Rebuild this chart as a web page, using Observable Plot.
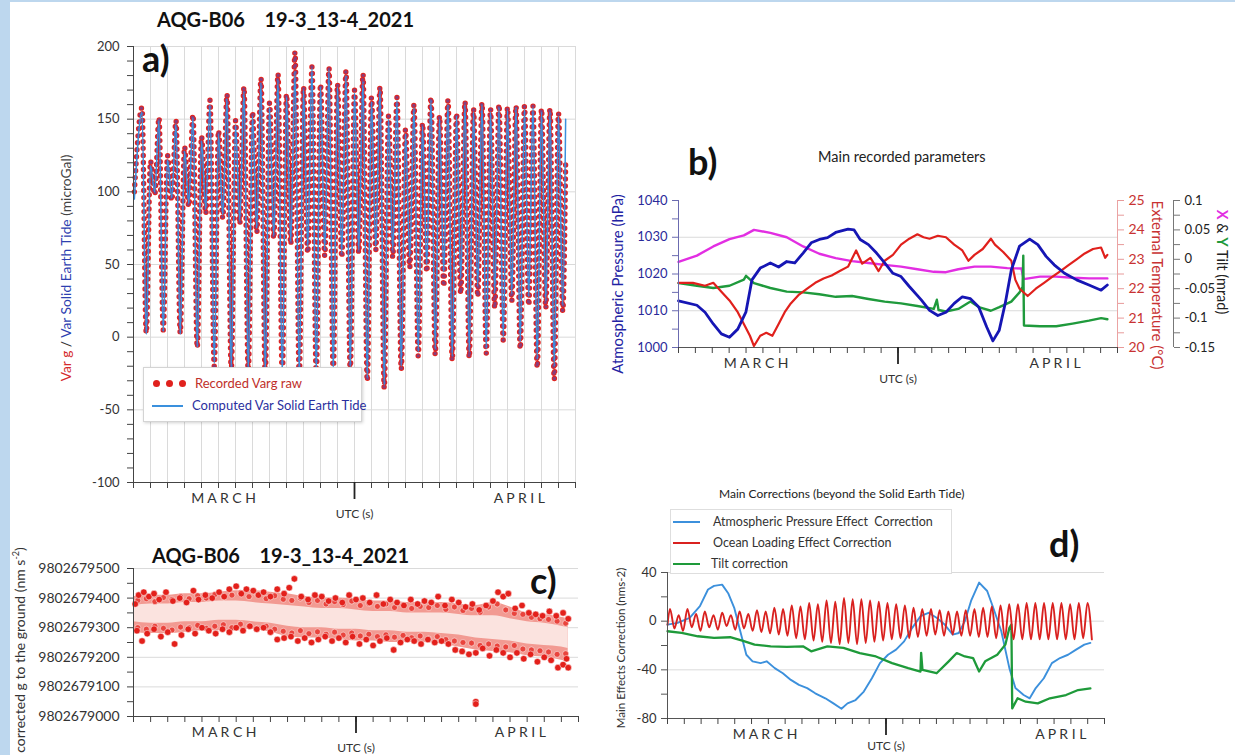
<!DOCTYPE html>
<html lang="en">
<head>
<meta charset="utf-8">
<title>AQG-B06 19-3_13-4_2021</title>
<script src="https://cdn.jsdelivr.net/npm/d3@7"></script>
<script src="https://cdn.jsdelivr.net/npm/@observablehq/plot@0.6"></script>
<style>
  html, body { margin: 0; padding: 0; background: #fff; }
  #fig { position: relative; width: 1235px; height: 755px; overflow: hidden; background: #fff;
         font-family: Lato, "Open Sans", sans-serif; color: #222; }
  .edge-l { position: absolute; left: 0; top: 0; width: 10px; height: 755px; background: #bdd7ee; }
  .edge-t { position: absolute; left: 0; top: 0; width: 1235px; height: 2px; background: #bdd7ee; }
  .panel { position: absolute; }
  .panel svg { overflow: visible; }
  .txt { position: absolute; white-space: pre; line-height: 1; }
  .rot { position: absolute; white-space: nowrap; line-height: 1; transform: translate(-50%, -50%) rotate(-90deg); }
  .rot90 { position: absolute; white-space: nowrap; line-height: 1; transform: translate(-50%, -50%) rotate(90deg); }
  .legend { position: absolute; background: #fff; border: 1px solid #d4d4d4; box-shadow: 1px 1px 3px rgba(0,0,0,0.18); }
  .lg-row { position: absolute; left: 0; display: flex; align-items: center; white-space: nowrap; line-height: 1; }
  .dot { display: inline-block; width: 7px; height: 7px; border-radius: 50%; background: #e0211d; margin-right: 6px; }
  .seg { display: inline-block; height: 2px; }
</style>
</head>
<body>
<div id="fig">
  <div class="edge-l"></div>
  <div class="edge-t"></div>
</div>
<script>
const FONT = 'Lato, "Open Sans", sans-serif';

// ---------- a) gravity variation vs computed solid Earth tide (microGal) ----------
// one entry per day: higher high, lower low, lower high, higher low
const tideHH = [155,149,147,151,160,164,169,175,177,183,185,184,180,176,170,163,158,163,160,160,160,158,158,158,155];
const tideLL = [2,4,2,-7,-18,-22,-24,-25,-26,-26,-25,-24,-22,-28,-33,-20,-10,-8,-13,-10,-8,0,-3,-15,-20];
const tideLH = [118,122,128,135,140,146,152,158,165,170,172,172,168,162,150,140,145,150,152,155,155,156,157,155,152];
const tideHL = [100,96,92,88,84,80,75,70,66,62,60,58,60,62,60,55,50,45,40,35,30,30,28,25,22];
const rawHH  = [158,151,149,153,163,167,172,178,181,196,186,185,183,181,172,165,160,165,163,162,161,160,159,159,157];
const rawLL  = [3,5,3,-7,-20,-23,-25,-26,-27,-27,-26,-25,-23,-30,-35,-22,-13,-12,-16,-14,-11,-2,-8,-21,-29];
const rawLH  = [121,125,131,138,142,149,155,161,167,172,174,174,170,165,152,143,147,152,154,157,157,158,159,157,154];
const rawHL  = [98,94,90,85,82,78,72,68,64,58,56,55,58,60,55,48,45,35,30,28,20,25,22,20,18];
const tideEnds = [95, 150];
const rawEnds = [100, 120];

// ---------- b) recorded parameters ----------
const pressDay = [0,1.09,1.57,2.06,2.54,3.02,3.51,3.99,4.35,4.84,5.44,5.93,6.41,6.89,7.38,7.86,8.34,8.83,9.31,10.04,10.4,10.76,11.25,11.73,12.21,12.7,13.18,13.67,14.39,14.87,15.36,15.84,16.33,16.81,17.29,17.78,18.26,18.62,18.99,19.35,19.71,20.2,20.8,21.28,21.77,22.25,22.86,23.58,24.31,25.03,25.4];
const pressVal = [1012.7,1011.5,1009.6,1006.4,1003.7,1002.8,1005,1009.6,1018.4,1021.6,1023,1021.9,1023.4,1023,1025.7,1028.5,1029.4,1029.9,1031.3,1032.2,1032,1029.4,1028,1025.7,1023,1020.2,1019.3,1016.6,1012.9,1010.1,1008.7,1009.6,1012,1013.8,1013.3,1011,1005.5,1001.8,1004.6,1012,1021.1,1027.6,1029.5,1028,1024.8,1022.5,1020.2,1018.4,1017,1015.6,1017];
const tempDay = [0,0.85,1.57,2.06,2.54,3.02,3.51,3.87,4.23,4.47,4.84,5.2,5.56,5.93,6.29,6.65,7.14,7.62,8.1,8.59,9.07,9.55,10.04,10.52,10.88,11.37,11.85,12.21,12.7,13.18,13.67,14.15,14.51,14.87,15.36,15.84,16.33,16.81,17.17,17.53,18.02,18.5,18.74,19.23,19.71,19.95,20.2,20.68,21.16,21.65,22.13,22.62,23.1,23.58,24.06,24.55,25.03,25.27,25.4];
const tempVal = [22.2,22.2,22.1,22.2,21.9,21.6,21.2,20.8,20.4,20.05,20.4,20.5,20.4,20.8,21.2,21.5,21.8,22,22.2,22.35,22.45,22.6,22.75,23.3,22.85,23.05,22.6,22.95,23.15,23.5,23.7,23.85,23.75,23.7,23.8,23.75,23.5,23.3,22.95,23.15,23.35,23.7,23.5,23.25,22.95,22.3,22,21.75,22,22.2,22.4,22.6,22.8,23,23.2,23.35,23.4,23.05,23.15];
const tiltXDay = [0,1.09,2.06,3.02,3.87,4.47,5.44,6.41,7.38,8.34,9.31,10.28,11.25,12.21,13.18,14.15,15.12,15.84,16.57,17.53,18.5,19.47,20.31,20.44,21.41,22.37,23.34,24.31,25.4];
const tiltXVal = [-0.0044,0.0063,0.0219,0.0344,0.0406,0.05,0.045,0.0375,0.0219,0.0094,0.0019,-0.0031,-0.0063,-0.0094,-0.0125,-0.0169,-0.0213,-0.0219,-0.0169,-0.0125,-0.0125,-0.015,-0.0156,-0.0338,-0.0294,-0.0294,-0.0313,-0.0325,-0.0325];
const tiltYDay = [0,1.09,2.06,3.02,3.87,4.0,4.47,5.44,6.41,7.38,8.34,9.31,10.28,11.25,12.21,13.18,14.15,15.12,15.3,15.4,15.84,16.57,17.29,17.78,18.5,19.0,19.71,20.2,20.38,20.42,20.46,21.41,22.37,23.34,24.31,25.03,25.4];
const tiltYVal = [-0.0406,-0.045,-0.0488,-0.045,-0.0344,-0.0281,-0.0406,-0.0488,-0.055,-0.0563,-0.0594,-0.0638,-0.0625,-0.0675,-0.0719,-0.075,-0.0794,-0.0844,-0.0688,-0.0863,-0.0888,-0.0844,-0.0719,-0.0813,-0.0875,-0.0813,-0.0719,-0.0563,-0.0469,0.0063,-0.1125,-0.1138,-0.1138,-0.1094,-0.1044,-0.1,-0.1019];

// ---------- c) corrected g (nm s-2), offsets above 9802679000 ----------
const gBase = 9802679000;
const cBandDay    = [0,1,2,3,4,5,6,7,8,9,10,11,12,13,14,15,16,17,18,19,20,21,22,23,24,25,25.4];
const cBandTop    = [405,410,410,415,415,420,425,425,420,415,405,400,400,395,390,390,385,385,385,380,375,385,370,350,345,335,330];
const cBandBottom = [285,280,280,285,290,290,295,295,285,270,265,265,260,255,255,250,250,250,245,235,225,220,215,205,200,190,185];
const cCoreTop    = [375,380,380,385,385,390,390,385,380,375,370,365,365,360,355,355,350,350,350,345,340,340,330,320,315,305,300];
const cCoreBottom = [320,315,315,320,320,325,325,320,315,305,300,300,295,295,290,290,285,285,280,275,265,260,255,245,240,235,230];
const cUpperDots = [[0.1,380],[0.3,410],[0.6,420],[0.9,405],[1.2,415],[1.5,395],[1.9,420],[2.3,390],[2.7,400],[3.1,385],[3.5,425],[3.8,395],[4.2,410],[4.6,400],[5.0,420],[5.3,405],[5.6,430],[6.0,440],[6.3,415],[6.6,430],[7.0,425],[7.3,410],[7.6,420],[8.0,405],[8.4,430],[8.8,415],[9.1,435],[9.4,465],[9.8,405],[10.2,395],[10.6,410],[11.0,405],[11.4,390],[11.8,400],[12.2,385],[12.6,410],[13.0,395],[13.4,400],[13.8,385],[14.2,410],[14.6,380],[15.0,395],[15.4,385],[15.8,375],[16.2,395],[16.6,380],[17.0,390],[17.4,385],[17.8,405],[18.2,375],[18.6,395],[19.0,385],[19.4,370],[19.8,380],[20.2,360],[20.6,375],[21.0,390],[21.3,420],[21.6,405],[21.9,415],[22.3,365],[22.7,375],[23.1,350],[23.5,345],[23.9,340],[24.3,355],[24.7,340],[25.1,350],[25.4,330]];
const cLowerDots = [[0.2,290],[0.5,255],[0.8,280],[1.2,295],[1.6,270],[2.0,285],[2.4,245],[2.8,275],[3.2,295],[3.6,280],[4.0,300],[4.4,290],[4.8,280],[5.2,295],[5.6,285],[6.0,300],[6.4,290],[6.8,305],[7.2,295],[7.6,300],[8.0,285],[8.4,260],[8.8,265],[9.2,270],[9.6,255],[10.0,265],[10.4,250],[10.8,260],[11.2,270],[11.6,255],[12.0,265],[12.4,250],[12.8,270],[13.2,245],[13.6,260],[14.0,240],[14.4,255],[14.8,265],[15.2,225],[15.6,250],[16.0,260],[16.4,255],[16.8,245],[17.2,260],[17.6,250],[18.0,255],[18.4,245],[18.8,225],[19.2,220],[19.6,210],[20.0,215],[20.4,230],[20.8,205],[21.2,225],[21.6,215],[22.0,200],[22.4,215],[22.8,195],[23.2,210],[23.6,185],[24.0,200],[24.4,190],[24.8,165],[25.1,175],[25.3,195],[25.4,165]];
const cInnerUpper = [[0.25,392],[0.75,398],[1.25,388],[1.75,402],[2.25,395],[2.75,405],[3.25,398],[3.75,408],[4.25,400],[4.75,412],[5.25,404],[5.75,410],[6.25,418],[6.75,405],[7.25,412],[7.75,398],[8.25,408],[8.75,396],[9.25,392],[9.75,400],[10.25,385],[10.75,392],[11.25,380],[11.75,388],[12.25,378],[12.75,390],[13.25,375],[13.75,382],[14.25,372],[14.75,380],[15.25,368],[15.75,377],[16.25,365],[16.75,372],[17.25,368],[17.75,375],[18.25,362],[18.75,370],[19.25,358],[19.75,365],[20.25,352],[20.75,370],[21.25,380],[21.75,360],[22.25,348],[22.75,345],[23.25,335],[23.75,330],[24.25,328],[24.75,322],[25.25,315]];
const cInnerLower = [[0.25,300],[0.75,295],[1.25,305],[1.75,298],[2.25,292],[2.75,302],[3.25,300],[3.75,308],[4.25,298],[4.75,305],[5.25,310],[5.75,300],[6.25,312],[6.75,305],[7.25,298],[7.75,305],[8.25,295],[8.75,288],[9.25,282],[9.75,290],[10.25,280],[10.75,286],[11.25,278],[11.75,285],[12.25,275],[12.75,282],[13.25,272],[13.75,278],[14.25,270],[14.75,276],[15.25,268],[15.75,274],[16.25,266],[16.75,272],[17.25,262],[17.75,270],[18.25,260],[18.75,255],[19.25,250],[19.75,248],[20.25,240],[20.75,245],[21.25,238],[21.75,235],[22.25,240],[22.75,228],[23.25,225],[23.75,222],[24.25,218],[24.75,210],[25.25,212]];
const cOutliers = [[20.0,50],[20.0,42]];

// ---------- d) main corrections (nm s-2) ----------
const oceanPeaks   = [10,5,10,6, 8,5,7,5,8,6, 9,8,11,10, 13,12,15,14, 17,16,19,18,18,17, 16,15,14,13, 11,10,10,9, 8,8,9,10, 11,12,13,14, 14,15,15,15,15,15,14,15,15];
const oceanTroughs = [-6,-8,-5,-8, -5,-7,-4,-7,-6,-8, -9,-10,-11,-12, -14,-15,-16,-17, -18,-19,-18,-19,-18,-17, -16,-15,-14,-14, -13,-12,-11,-12, -11,-12,-12,-13, -13,-14,-14,-15, -15,-15,-15,-15,-15,-15,-15,-14,-15];
const atmDay = [0,0.6,1.32,1.93,2.41,2.77,3.25,3.61,3.97,4.33,4.69,5.06,5.54,5.9,6.38,6.86,7.34,7.82,8.31,8.79,9.39,9.87,10.35,10.71,11.19,11.68,12.16,12.64,13.12,13.6,14.08,14.56,15.05,15.53,16.01,16.49,16.97,17.33,17.69,18.06,18.54,19.02,19.38,19.86,20.34,20.7,21.19,21.55,21.91,22.39,22.87,23.35,23.83,24.31,24.8,25.16];
const atmVal = [-2.8,-1.4,2.8,12.4,26,29,30,23,11,-8.3,-27.6,-33,-34.5,-33,-38.6,-42.8,-48.3,-52.4,-55,-59.3,-63.4,-67.6,-72,-67.6,-64.8,-57.9,-46.9,-34.5,-27.6,-23.4,-16.6,-5.5,4.1,6.9,2.8,-2.8,-11,-9.7,0,16.6,31.7,24.8,11,-8.3,-38.6,-55,-60.7,-63.4,-55,-46.9,-34.5,-30.3,-27.6,-23.4,-19.3,-17.9];
const tiltCDay = [0,0.84,1.81,2.77,3.73,4.45,5.18,6.14,7.1,8.06,8.55,9.51,10.47,11.44,12.4,13.36,14.32,15.05,15.09,15.17,16.01,16.73,17.21,17.69,18.18,18.54,18.9,19.62,20.1,20.34,20.46,20.51,20.83,21.31,22.03,22.75,23.71,24.43,25.16];
const tiltCVal = [-8.3,-9.7,-12.4,-13.8,-13.2,-16,-19.3,-20.7,-21.2,-20.7,-24.8,-20.7,-22,-26.2,-29,-34.5,-38.6,-41.4,-26,-40,-42.8,-33,-26.2,-29,-30.3,-41.4,-33,-27.6,-19.3,-5.5,-2.8,-71.7,-63.4,-66.2,-67.6,-63.4,-60.7,-56.6,-55.2];

// ---------- helpers ----------
const fig = document.getElementById("fig");
function place(node, left, top) {
  const wrap = document.createElement("div");
  wrap.className = "panel";
  wrap.style.left = left + "px";
  wrap.style.top = top + "px";
  wrap.appendChild(node);
  fig.appendChild(wrap);
}
function text(html, left, top, css) {
  const d = document.createElement("div");
  d.className = "txt";
  d.innerHTML = html;
  d.style.left = left + "px";
  d.style.top = top + "px";
  Object.assign(d.style, css || {});
  fig.appendChild(d);
  return d;
}
function vtext(html, cx, cy, css, cls) {
  const d = document.createElement("div");
  d.className = cls || "rot";
  d.innerHTML = html;
  d.style.left = cx + "px";
  d.style.top = cy + "px";
  Object.assign(d.style, css || {});
  fig.appendChild(d);
  return d;
}
// daily ticks, mid-period marker, month names and the time label
function timeAxis(marchAt, aprilAt, utcPad = 27) {
  return [
    Plot.axisX({ticks: d3.range(0, 27), tickSize: 6, tickFormat: () => "", stroke: "#444"}),
    Plot.axisX({ticks: [13], tickSize: 17, strokeWidth: 1.8, tickFormat: () => "", stroke: "#222"}),
    Plot.axisX({ticks: [marchAt, aprilAt], tickSize: 0, tickPadding: 11, fontSize: 14, fill: "#333",
                tickFormat: d => d < 13 ? "M A R C H" : "A P R I L"}),
    Plot.axisX({ticks: [13], tickSize: 0, tickPadding: utcPad, fontSize: 12, fill: "#333", tickFormat: () => "UTC (s)"})
  ];
}
const baseStyle = {fontFamily: FONT, fontSize: "13px", color: "#333", background: "transparent", overflow: "visible"};

// ---------- a) ----------
function tideSeries(ends, HH, LL, LH, HL) {
  const s = [{t: 0.05, v: ends[0]}];
  HH.forEach((h, d) => {
    s.push({t: d + 0.5, v: h}, {t: d + 0.75, v: LL[d]}, {t: d + 1.0, v: LH[d]}, {t: d + 1.25, v: HL[d]});
  });
  s.push({t: 25.42, v: ends[1]});
  return s;
}
const tideA = tideSeries(tideEnds, tideHH, tideLL, tideLH, tideHL);
const rawA = tideSeries(rawEnds, rawHH, rawLL, rawLH, rawHL);

const plotA = Plot.plot({
  width: 600, height: 530,
  marginLeft: 133, marginRight: 25, marginTop: 46, marginBottom: 48,
  x: {domain: [0, 26], label: null},
  y: {domain: [-100, 200], label: null},
  style: baseStyle,
  marks: [
    Plot.gridX(d3.range(0, 27), {stroke: "#dadada", strokeOpacity: 1}),
    Plot.gridY(d3.range(-100, 201, 50), {stroke: "#dadada", strokeOpacity: 1}),
    Plot.line(rawA, {x: "t", y: "v", curve: "monotone-x", stroke: "#e3241e", strokeWidth: 5.4,
                     strokeLinecap: "round", strokeDasharray: "0 7"}),
    Plot.line(rawA, {x: "t", y: "v", curve: "monotone-x", stroke: "#8a3c7a", strokeWidth: 3.4,
                     strokeLinecap: "round", strokeDasharray: "0 7"}),
    Plot.line(tideA, {x: "t", y: "v", curve: "monotone-x", stroke: "#3a90dd", strokeWidth: 1.5}),
    Plot.ruleX([0], {stroke: "#444"}),
    Plot.ruleY([-100], {stroke: "#444"}),
    Plot.axisY({ticks: d3.range(-100, 201, 10), tickSize: 6, tickPadding: 8, stroke: "#444", fill: "#333",
                tickFormat: d => d % 50 === 0 ? String(d) : ""}),
    ...timeAxis(5.3, 22.7)
  ]
});
place(plotA, 0, 0);

// ---------- b) ----------
const pFromT = T => 1000 + (T - 20) * 8;
const pFromTilt = m => 1000 + (m + 0.15) * 160;
const zip = (ts, vs, f) => ts.map((t, i) => ({t, v: f ? f(vs[i]) : vs[i]}));
const plotB = Plot.plot({
  width: 635, height: 260,
  marginLeft: 78, marginRight: 118, marginTop: 70, marginBottom: 43,
  x: {domain: [0, 26], label: null},
  y: {domain: [1000, 1040], label: null},
  style: baseStyle,
  marks: [
    Plot.gridY([1010, 1020, 1030], {stroke: "#dadada", strokeOpacity: 1}),
    Plot.line(zip(tiltXDay, tiltXVal, pFromTilt), {x: "t", y: "v", stroke: "#e22ee2", strokeWidth: 2.4}),
    Plot.line(zip(tiltYDay, tiltYVal, pFromTilt), {x: "t", y: "v", stroke: "#1f9a3c", strokeWidth: 2.4}),
    Plot.line(zip(tempDay, tempVal, pFromT), {x: "t", y: "v", stroke: "#e0201c", strokeWidth: 2.2}),
    Plot.line(zip(pressDay, pressVal), {x: "t", y: "v", stroke: "#1616b4", strokeWidth: 2.8}),
    Plot.ruleX([0], {stroke: "#6b6bb0"}),
    Plot.axisY({ticks: d3.range(1000, 1041, 5), tickSize: 6, tickPadding: 5, stroke: "#6b6bb0", fill: "#2a2a9a",
                tickFormat: d => d % 10 === 0 ? String(d) : ""}),
    Plot.ruleX([26], {stroke: "#eba3a3"}),
    Plot.axisY({anchor: "right", ticks: d3.range(20, 25.01, 0.5).map(pFromT), tickSize: 6, tickPadding: 5,
                stroke: "#e79a9a", fill: "#c83232", fontSize: 14,
                tickFormat: p => { const T = 20 + (p - 1000) / 8; return Math.abs(T - Math.round(T)) < 1e-6 ? String(Math.round(T)) : ""; }}),
    Plot.ruleX([26], {dx: 56, stroke: "#777"}),
    Plot.axisY({anchor: "right", dx: 56, ticks: d3.range(-0.15, 0.1001, 0.025).map(pFromTilt), tickSize: 6, tickPadding: 5,
                stroke: "#777", fill: "#222",
                tickFormat: p => { const m = (p - 1000) / 160 - 0.15; const k = Math.round(m * 40);
                                   return k % 2 === 0 ? String(+(k / 40).toFixed(2)) : ""; }}),
    Plot.ruleY([1000], {stroke: "#555"}),
    ...timeAxis(4.6, 22.3)
  ]
});
place(plotB, 600, 130);

// ---------- c) ----------
const band = cBandDay.map((t, i) => ({t, lo: gBase + cBandBottom[i], hi: gBase + cBandTop[i],
                                      clo: gBase + cCoreBottom[i], chi: gBase + cCoreTop[i]}));
const toPts = arr => arr.map(([t, o]) => ({t, v: gBase + o}));
const cDot = {x: "t", y: "v", r: 3.3, fill: "#e3201b", stroke: "#fff", strokeWidth: 0.5};
const plotC = Plot.plot({
  width: 600, height: 215,
  marginLeft: 133, marginRight: 22, marginTop: 28, marginBottom: 39,
  x: {domain: [0, 26], label: null},
  y: {domain: [gBase, gBase + 500], label: null},
  style: {...baseStyle, fontSize: "14px"},
  marks: [
    Plot.gridY(d3.range(gBase + 100, gBase + 501, 100), {stroke: "#dadada", strokeOpacity: 1}),
    Plot.areaY(band, {x: "t", y1: "lo", y2: "hi", fill: "#f29a92", curve: "monotone-x"}),
    Plot.areaY(band, {x: "t", y1: "clo", y2: "chi", fill: "#fbe3df", curve: "monotone-x"}),
    Plot.dot(toPts(cInnerUpper), {...cDot, fill: "#e9443d", r: 3}),
    Plot.dot(toPts(cInnerLower), {...cDot, fill: "#e9443d", r: 3}),
    Plot.dot(toPts(cUpperDots), cDot),
    Plot.dot(toPts(cLowerDots), cDot),
    Plot.dot(toPts(cOutliers), cDot),
    Plot.ruleX([0], {stroke: "#444"}),
    Plot.ruleY([gBase], {stroke: "#444"}),
    Plot.axisY({ticks: d3.range(gBase, gBase + 501, 50), tickSize: 6, tickPadding: 8, stroke: "#444", fill: "#333",
                tickFormat: d => (d - gBase) % 100 === 0 ? String(d) : ""}),
    ...timeAxis(5.3, 22.6)
  ]
});
place(plotC, 0, 540);

// ---------- d) ----------
const ocean = [{t: 0.0, v: -3}];
oceanPeaks.forEach((p, k) => {
  ocean.push({t: 0.15 + k * 0.5175, v: p}, {t: 0.15 + k * 0.5175 + 0.2588, v: oceanTroughs[k]});
});
const plotD = Plot.plot({
  width: 635, height: 275,
  marginLeft: 67, marginRight: 131, marginTop: 92, marginBottom: 37,
  x: {domain: [0, 26], label: null},
  y: {domain: [-80, 40], label: null},
  style: baseStyle,
  marks: [
    Plot.gridY([40, 0, -40], {stroke: "#dadada", strokeOpacity: 1}),
    Plot.line(zip(atmDay, atmVal), {x: "t", y: "v", stroke: "#3c90dc", strokeWidth: 1.9}),
    Plot.line(zip(tiltCDay, tiltCVal), {x: "t", y: "v", stroke: "#1e9a3a", strokeWidth: 2.3}),
    Plot.line(ocean, {x: "t", y: "v", curve: "monotone-x", stroke: "#d9211f", strokeWidth: 1.9}),
    Plot.ruleX([0], {stroke: "#555"}),
    Plot.ruleY([-80], {stroke: "#555"}),
    Plot.axisY({ticks: d3.range(-80, 41, 20), tickSize: 6, tickPadding: 5, stroke: "#555", fill: "#333",
                tickFormat: d => d % 40 === 0 ? String(d) : ""}),
    ...timeAxis(5.8, 23.4, 23)
  ]
});
place(plotD, 600, 480);

// ---------- titles, labels, legends ----------
text("AQG-B06    19-3_13-4_2021", 157, 9, {fontSize: "20px", fontWeight: "700", color: "#111"});
text("a)", 142, 40, {fontSize: "36px", fontWeight: "700", color: "#111"});
vtext('<span style="color:#d42a2a">Var g</span> <span style="color:#333">/</span> <span style="color:#2e3fb0">Var Solid Earth Tide</span> <span style="color:#444">(microGal)</span>',
      66, 268, {fontSize: "13.8px"});

const legA = document.createElement("div");
legA.className = "legend";
Object.assign(legA.style, {left: "143px", top: "367px", width: "217px", height: "53px"});
legA.innerHTML =
  '<div class="lg-row" style="top:9px;left:9px;font-size:13px;color:#c0302a"><span class="dot"></span><span class="dot"></span><span class="dot"></span><span style="margin-left:3px">Recorded Varg raw</span></div>' +
  '<div class="lg-row" style="top:31px;left:8px;font-size:13px;color:#2a2f9e"><span class="seg" style="width:31px;background:#3a90dd;margin-right:9px"></span>Computed Var Solid Earth Tide</div>';
fig.appendChild(legA);

text("b)", 688, 143, {fontSize: "36px", fontWeight: "700", color: "#111"});
text("Main recorded parameters", 818, 150, {fontSize: "14.5px", color: "#222"});
vtext("Atmospheric Pressure (hPa)", 617, 284, {fontSize: "15px", color: "#2323a3"});
vtext("External Temperature (°C)", 1157, 285, {fontSize: "15px", color: "#c83232"}, "rot90");
vtext('<span style="color:#e22ee2;font-weight:700">X</span> &amp; <span style="color:#1f9a3c;font-weight:700">Y</span> Tilt (mrad)', 1222, 262, {fontSize: "14.5px", color: "#222"}, "rot90");

text("AQG-B06    19-3_13-4_2021", 152, 545, {fontSize: "20px", fontWeight: "700", color: "#111"});
text("c)", 530, 562, {fontSize: "36px", fontWeight: "700", color: "#111"});
vtext('corrected g to the ground (nm s<sup style="font-size:9px">-2</sup>)', 19, 650, {fontSize: "14px", color: "#333"});

text("Main Corrections (beyond the Solid Earth Tide)", 719, 488, {fontSize: "12px", color: "#222"});
text("d)", 1049, 525, {fontSize: "36px", fontWeight: "700", color: "#111"});
vtext("Main Effects Correction (nms-2)", 621, 648, {fontSize: "11.5px", color: "#333"});

const legD = document.createElement("div");
legD.className = "legend";
Object.assign(legD.style, {left: "670px", top: "509px", width: "280px", height: "63px", boxShadow: "none", borderColor: "#dedede"});
legD.innerHTML =
  '<div class="lg-row" style="top:6px;left:2px;font-size:12.5px;color:#333"><span class="seg" style="width:27px;background:#3c90dc;margin-right:13px"></span>Atmospheric Pressure Effect&nbsp; Correction</div>' +
  '<div class="lg-row" style="top:27px;left:2px;font-size:12.5px;color:#333"><span class="seg" style="width:27px;background:#d9211f;margin-right:13px"></span>Ocean Loading Effect Correction</div>' +
  '<div class="lg-row" style="top:48px;left:2px;font-size:12.5px;color:#333"><span class="seg" style="width:27px;background:#1e9a3a;margin-right:11px"></span>Tilt correction</div>';
fig.appendChild(legD);
</script>
</body>
</html>
